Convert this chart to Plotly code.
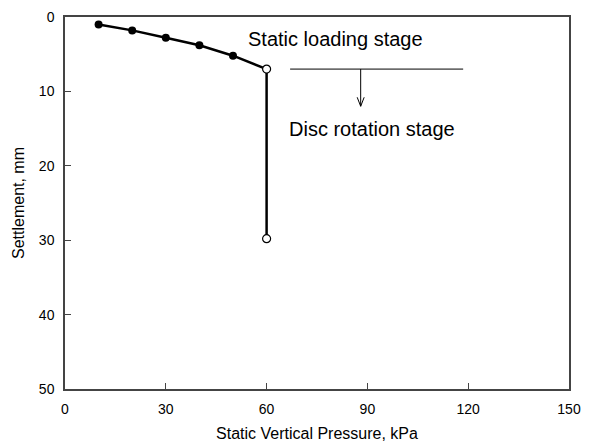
import plotly.graph_objects as go

pressure = [10, 20, 30, 40, 50, 60]
settlement = [1.0, 1.8, 2.8, 3.8, 5.2, 7.0]
rot_pressure = [60, 60]
rot_settlement = [7.0, 29.8]

x_ticks = [0, 30, 60, 90, 120, 150]
y_ticks = [0, 10, 20, 30, 40, 50]

FONT = "Liberation Sans, Arial, sans-serif"

fig = go.Figure()
# vertical rotation-stage line
fig.add_trace(go.Scatter(x=rot_pressure, y=rot_settlement, mode="lines",
                         line=dict(color="black", width=2.5), showlegend=False))
# static loading curve
fig.add_trace(go.Scatter(x=pressure, y=settlement, mode="lines",
                         line=dict(color="black", width=2.5), showlegend=False))
fig.add_trace(go.Scatter(x=pressure[:-1], y=settlement[:-1], mode="markers",
                         marker=dict(color="black", size=8), showlegend=False))
fig.add_trace(go.Scatter(x=[pressure[-1], rot_pressure[-1]],
                         y=[settlement[-1], rot_settlement[-1]], mode="markers",
                         marker=dict(color="white", size=8, line=dict(color="black", width=1.2)),
                         showlegend=False))

# boundary line and arrow
fig.add_shape(type="line", x0=67, x1=118.5, y0=7, y1=7, line=dict(color="black", width=1))
fig.add_shape(type="line", x0=88, x1=88, y0=7, y1=12, line=dict(color="black", width=1))
fig.add_shape(type="path", xsizemode="pixel", ysizemode="pixel", xanchor=88, yanchor=12,
              path="M-3.5,9 L0,0 L3.5,9", line=dict(color="black", width=1))
fig.add_annotation(x=54, y=3.0, text="Static loading stage", showarrow=False,
                   xanchor="left", font=dict(family=FONT, size=20, color="black"))
fig.add_annotation(x=66.2, y=15.0, text="Disc rotation stage", showarrow=False,
                   xanchor="left", font=dict(family=FONT, size=20, color="black"))

axis_common = dict(showgrid=False, zeroline=False, showline=True, linecolor="#444",
                   linewidth=1.5, mirror=True, ticks="inside", ticklen=6, tickcolor="#444",
                   automargin=False,
                   tickfont=dict(family=FONT, size=14, color="black"))

fig.update_xaxes(range=[0, 150], tickvals=x_ticks, ticklabelstandoff=6,
                 title=dict(text="Static Vertical Pressure, kPa",
                            font=dict(family=FONT, size=16, color="black"), standoff=12),
                 **axis_common)
fig.update_yaxes(range=[50, 0], tickvals=y_ticks, ticklabelstandoff=6,
                 title=dict(text="Settlement, mm",
                            font=dict(family=FONT, size=16, color="black"), standoff=10),
                 **axis_common)

fig.update_layout(width=593, height=444, margin=dict(l=65, r=24, t=17, b=55),
                  plot_bgcolor="white", paper_bgcolor="white")

fig.write_html("out.html")
